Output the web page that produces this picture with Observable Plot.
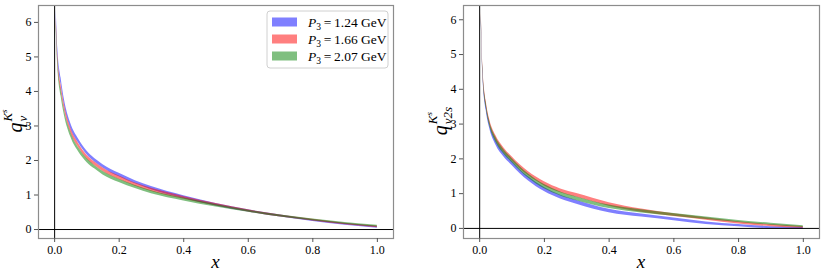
<!DOCTYPE html>
<html><head><meta charset="utf-8">
<script src="https://cdn.jsdelivr.net/npm/d3@7"></script>
<script src="https://cdn.jsdelivr.net/npm/@observablehq/plot@0.6"></script>
<style>
body{margin:0;background:#fff}
#wrap{display:flex;width:825px;height:278px;overflow:hidden}
#wrap svg, #wrap svg text, #wrap svg tspan{font-family:"Liberation Serif","Times New Roman",serif !important}
</style>
</head><body><div id="wrap"></div>
<script>
// ---- data ----
const momenta = ["1.24", "1.66", "2.07"];
const seriesColors = ["#0000ff", "#ff0000", "#008000"];
const xGrid = [0.005, 0.01, 0.02, 0.03, 0.05, 0.075, 0.1, 0.125, 0.15, 0.175, 0.2, 0.25, 0.3, 0.4, 0.5, 0.6, 0.7, 0.8, 0.9, 1.0];

// left panel q_v
const blueL  = [6.2, 5.1, 4.3, 3.7, 3.0, 2.55, 2.22, 2.0, 1.83, 1.69, 1.58, 1.37, 1.2, 0.94, 0.72, 0.54, 0.39, 0.26, 0.15, 0.06];
const redL   = [6.0, 4.9, 4.1, 3.55, 2.87, 2.42, 2.1, 1.9, 1.73, 1.6, 1.5, 1.3, 1.15, 0.92, 0.72, 0.54, 0.39, 0.27, 0.16, 0.08];
const greenL = [5.9, 4.8, 3.95, 3.4, 2.75, 2.3, 2.0, 1.8, 1.63, 1.51, 1.41, 1.23, 1.08, 0.87, 0.69, 0.53, 0.39, 0.28, 0.18, 0.1];
const halfL  = [0.15, 0.12, 0.09, 0.08, 0.07, 0.06, 0.055, 0.05, 0.05, 0.05, 0.05, 0.045, 0.045, 0.04, 0.035, 0.03, 0.03, 0.025, 0.025, 0.025];

// right panel q_v2s
const blueR  = [6.0, 4.45, 3.48, 2.98, 2.47, 2.12, 1.87, 1.63, 1.43, 1.26, 1.12, 0.9, 0.75, 0.5, 0.37, 0.26, 0.15, 0.08, 0.02, 0.0];
const redR   = [6.1, 4.55, 3.6, 3.1, 2.6, 2.25, 2.0, 1.77, 1.58, 1.42, 1.28, 1.08, 0.95, 0.69, 0.51, 0.38, 0.27, 0.16, 0.08, 0.03];
const greenR = [6.05, 4.5, 3.55, 3.05, 2.55, 2.2, 1.95, 1.71, 1.51, 1.34, 1.2, 0.99, 0.85, 0.62, 0.49, 0.39, 0.29, 0.2, 0.12, 0.05];
const halfR  = [0.12, 0.1, 0.08, 0.07, 0.07, 0.065, 0.06, 0.06, 0.06, 0.06, 0.06, 0.055, 0.055, 0.05, 0.045, 0.04, 0.035, 0.03, 0.03, 0.025];

const xTicks = [0, 0.2, 0.4, 0.6, 0.8, 1.0];
const yTicks = [0, 1, 2, 3, 4, 5, 6];

// ---- build ----
const FONT = '"Liberation Serif", "Times New Roman", serif';
function rows(seriesList, half) {
  const out = [];
  seriesList.forEach((vals, k) => {
    vals.forEach((v, i) => out.push({x: xGrid[i], lo: v - half[i], hi: v + half[i], s: momenta[k]}));
  });
  return out;
}

function panel(data, opts) {
  return Plot.plot({
    width: opts.width, height: 278,
    marginLeft: opts.ml, marginRight: opts.mr, marginTop: 5, marginBottom: 40,
    style: {fontFamily: FONT, fontSize: "12px", color: "#000", background: "#fff", overflow: "visible"},
    x: {domain: [-0.05, 1.05], label: null},
    y: {domain: opts.ydom, label: null},
    color: {domain: momenta, range: seriesColors},
    marks: [
      Plot.areaY(data, {x: "x", y1: "lo", y2: "hi", fill: "s", fillOpacity: 0.5, curve: "monotone-x", z: "s"}),
      Plot.ruleY([0], {stroke: "#000", strokeWidth: 1}),
      Plot.ruleX([0], {stroke: "#000", strokeWidth: 1}),
      Plot.frame({stroke: "#8c8c8c", strokeWidth: 1.2}),
      Plot.axisX({ticks: xTicks, tickFormat: d3.format(".1f"), tickSize: 4, tickPadding: 3, stroke: "#555", label: null}),
      Plot.axisY({ticks: yTicks, tickFormat: d3.format("d"), tickSize: 4, tickPadding: 3, stroke: "#555", label: null})
    ]
  });
}

const wrap = document.getElementById("wrap");
const left = panel(rows([blueL, redL, greenL], halfL), {width: 420, ml: 38, mr: 27, ydom: [-0.26, 6.49]});
const right = panel(rows([blueR, redR, greenR], halfR), {width: 405, ml: 43, mr: 6, ydom: [-0.29, 6.41]});
wrap.appendChild(left);
wrap.appendChild(right);

function ylabel(svg, cx, cy, sub) {
  const g = d3.select(svg).append("g").attr("text-anchor", "start").attr("font-style", "italic").attr("fill", "#000");
  const inner = g.append("g");
  const q = inner.append("text").attr("font-size", 20).attr("x", 0).attr("y", 0).text("q");
  const qw = q.node().getComputedTextLength();
  const s = inner.append("text").attr("font-size", 13).attr("x", qw + 1).attr("y", 5).text(sub);
  const sup = inner.append("text").attr("font-size", 13).attr("x", qw + 1).attr("y", -10);
  sup.append("tspan").text("K");
  sup.append("tspan").attr("font-size", 9).attr("dy", -5).text("s");
  const w = Math.max(qw + s.node().getComputedTextLength(), qw + sup.node().getComputedTextLength()) + 1;
  inner.attr("transform", `translate(${-w / 2},0)`);
  g.attr("transform", `translate(${cx},${cy}) rotate(-90)`);
}
function xlabel(svg, cx) {
  d3.select(svg).append("text").attr("x", cx).attr("y", 268).attr("text-anchor", "middle")
    .attr("font-style", "italic").attr("font-size", 19).text("x");
}
ylabel(left, 22, 121, "v");
ylabel(right, 27, 121, "v2s");
xlabel(left, 215.5);
xlabel(right, 221);

// legend in left panel
(function legend(svg) {
  const g = d3.select(svg).append("g").attr("text-anchor", "start");
  g.append("rect").attr("x", 267).attr("y", 11).attr("width", 121).attr("height", 57).attr("rx", 3)
    .attr("fill", "#fff").attr("fill-opacity", 0.8).attr("stroke", "#d0d0d0");
  momenta.forEach((m, i) => {
    const cy = 22 + i * 17;
    g.append("rect").attr("x", 272).attr("y", cy - 4.5).attr("width", 25).attr("height", 9)
      .attr("fill", seriesColors[i]).attr("fill-opacity", 0.5);
    const t = g.append("text").attr("x", 308).attr("y", cy + 4.5).attr("font-size", 13.5).attr("fill", "#000");
    t.append("tspan").attr("font-style", "italic").text("P");
    t.append("tspan").attr("font-size", 9.5).attr("dy", 3).text("3");
    t.append("tspan").attr("dy", -3).text("\u2009=\u2009" + m + " GeV");
  });
})(left);
</script>
</body></html>
